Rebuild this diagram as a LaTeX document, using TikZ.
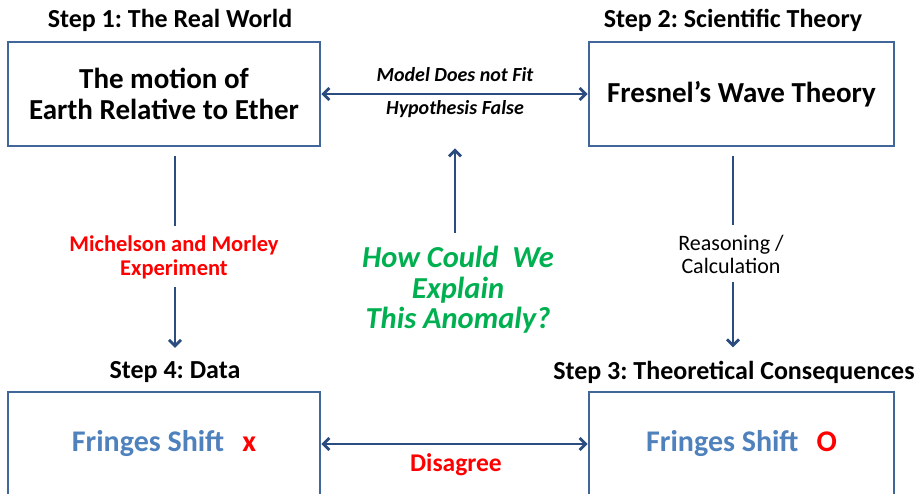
\documentclass[tikz,border=0pt]{standalone}
\usepackage{fontspec}
\setmainfont{Carlito}
\frenchspacing
\usetikzlibrary{arrows.meta}
\definecolor{boxblue}{HTML}{41679A}
\definecolor{arrblue}{HTML}{2B4C7E}
\definecolor{fringe}{HTML}{4F81BD}
\definecolor{anomaly}{HTML}{00B050}
\begin{document}
\begin{tikzpicture}[x=1pt,y=-1pt,
  stepbox/.style={draw=boxblue,line width=2.8pt,minimum height=104pt,align=center,font=\bfseries\fontsize{29}{31}\selectfont},
  title/.style={font=\bfseries\fontsize{26}{28}\selectfont},
  conn/.style={draw=arrblue,line width=2.8pt},
  arr/.style={conn,-{Straight Barb[length=6pt,width=12pt]}},
  both/.style={conn,{Straight Barb[length=6pt,width=12pt]}-{Straight Barb[length=6pt,width=12pt]}}]
\clip (0,0) rectangle (922,494);
% boxes
\node[stepbox,minimum width=312pt] (world) at (164,94) {The motion of\\Earth Relative to Ether};
\node[stepbox,minimum width=305pt] (theory) at (741.5,94) {Fresnel’s Wave Theory};
\node[stepbox,minimum width=312pt,font=\bfseries\fontsize{30}{32}\selectfont] (data) at (164,444) {\color{fringe}Fringes Shift\hspace{0.6em}\color{red}x};
\node[stepbox,minimum width=305pt,font=\bfseries\fontsize{30}{32}\selectfont] (cons) at (741.5,444) {\color{fringe}Fringes Shift\hspace{0.6em}\color{red}O};
% titles
\node[title] (t1) at (170,20) {Step 1: The Real World};
\node[title] (t2) at (733,20) {Step 2: Scientific Theory};
\node[title] (t4) at (175,372) {Step 4: Data};
\node[title] (t3) at (734,372) {Step 3: Theoretical Consequences};
% labels on the way
\node[red,align=center,font=\bfseries\fontsize{22.5}{24}\selectfont] (mm) at (174,257) {Michelson and Morley\\Experiment};
\node[align=center,font=\fontsize{22}{23}\selectfont] (rc) at (731,254) {Reasoning /\\Calculation};
\node[anomaly,align=center,font=\bfseries\itshape\fontsize{30.5}{30.5}\selectfont] (how) at (458,290) {How Could\ \ We\\Explain\\This Anomaly?};
\node[font=\bfseries\itshape\fontsize{20}{22}\selectfont] (fit) at (455,75) {Model Does not Fit};
\node[font=\bfseries\itshape\fontsize{20}{22}\selectfont] (false) at (455,109) {Hypothesis False};
\node[red,font=\bfseries\fontsize{25.5}{28}\selectfont] (dis) at (456,465) {Disagree};
% connectors
\draw[both] (world.east) -- (theory.west);
\draw[both] (data.east) -- (cons.west);
\draw[conn,shorten <=9pt,shorten >=6pt] (world.south -| 175,0) -- (175,0 |- mm.north);
\draw[arr,shorten <=5pt,shorten >=10pt] (175,0 |- mm.south) -- (175,0 |- t4.north);
\draw[conn,shorten <=9pt,shorten >=6pt] (theory.south -| 733,0) -- (733,0 |- rc.north);
\draw[arr,shorten <=5pt,shorten >=10pt] (733,0 |- rc.south) -- (733,0 |- t3.north);
\draw[arr,shorten <=10pt,shorten >=1pt] (455,0 |- how.north) -- (455,0 |- world.south);
\end{tikzpicture}
\end{document}
